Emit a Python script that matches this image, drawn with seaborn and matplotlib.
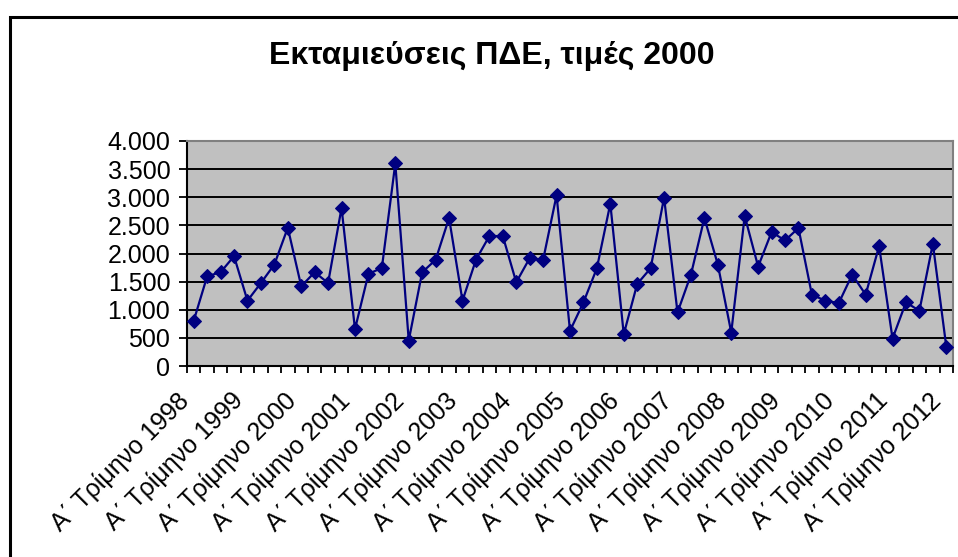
import numpy as np
import pandas as pd
import matplotlib
matplotlib.use("Agg")
import matplotlib.pyplot as plt
from matplotlib.patches import Rectangle
from matplotlib.ticker import FuncFormatter, FixedLocator
import seaborn as sns

# Quarterly values, Q1 1998 .. Q1 2012
years = list(range(1998, 2013))
values = [804, 1595, 1667, 1952, 1161, 1476, 1804, 2458,
          1417, 1667, 1476, 2810, 655, 1637, 1744, 3601,
          452, 1667, 1887, 2631, 1161, 1887, 2310, 2310,
          1488, 1917, 1887, 3036, 625, 1131, 1738, 2887,
          565, 1458, 1738, 2994, 952, 1625, 2631, 1804,
          595, 2667, 1768, 2381, 2232, 2452, 1268, 1161,
          1119, 1625, 1268, 2131, 488, 1131, 982, 2173,
          345]
tick_labels = [f"Α΄ Τρίμηνο {y}" for y in years]
title = "Εκταμιεύσεις ΠΔΕ, τιμές 2000"

df = pd.DataFrame({"q": np.arange(len(values)), "value": values})

sns.set_theme(style="white")
plt.rcParams["font.family"] = ["Liberation Sans", "DejaVu Sans"]
plt.rcParams["text.color"] = "black"
plt.rcParams["xtick.color"] = "black"
plt.rcParams["ytick.color"] = "black"

fig = plt.figure(figsize=(9.58, 5.57), dpi=100)
ax = fig.add_axes([187 / 958, 1 - 366 / 557, (953 - 187) / 958, (366 - 141) / 557])
ax.set_facecolor("#C0C0C0")

sns.lineplot(data=df, x="q", y="value", ax=ax, color="#000080", linewidth=1.6,
             marker="D", markersize=7, markeredgecolor="#000080", zorder=3)

ax.set_xlim(-0.5, len(values) - 0.5)
ax.set_ylim(0, 4000)
ax.set_yticks(np.arange(0, 4001, 500))
ax.yaxis.set_major_formatter(FuncFormatter(lambda v, p: f"{v:,.0f}".replace(",", ".")))
ax.grid(axis="y", color="black", linewidth=1.4)
ax.set_axisbelow(True)

ax.set_xticks(np.arange(0, len(values), 4))
ax.set_xticklabels(tick_labels, rotation=45, ha="right")
ax.xaxis.set_minor_locator(FixedLocator(np.arange(-0.5, len(values), 1)))
ax.tick_params(axis="x", which="major", length=0, pad=16, labelsize=18,
               labelcolor="black")
ax.tick_params(axis="x", which="minor", direction="out", length=5, width=1.3,
               color="black", bottom=True)
ax.tick_params(axis="y", direction="out", length=6, width=1.3, color="black",
               left=True, pad=6, labelsize=18, labelcolor="black")
ax.set_xlabel("")
ax.set_ylabel("")

for side in ["left", "bottom"]:
    ax.spines[side].set_color("black")
    ax.spines[side].set_linewidth(1.5)
for side in ["top", "right"]:
    ax.spines[side].set_visible(True)
    ax.spines[side].set_color("#808080")
    ax.spines[side].set_linewidth(1.5)

# chart area border (left and top visible)
fig.add_artist(Rectangle((10 / 958, -0.2), 2.0, 1.2 - 17 / 557,
                         transform=fig.transFigure, fill=False,
                         edgecolor="black", linewidth=2.2))

fig.text(492 / 958, 1 - 64 / 557, title, ha="center", va="baseline",
         fontsize=23, fontweight="bold", color="black")

fig.savefig("out.png", dpi=100)
